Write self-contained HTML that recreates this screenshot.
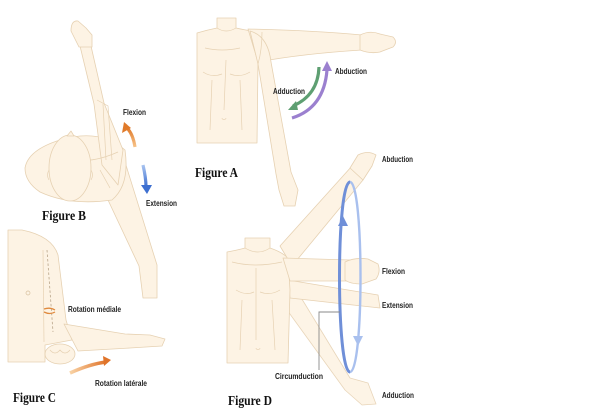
<!DOCTYPE html>
<html><head><meta charset="utf-8"><style>
html,body{margin:0;padding:0;background:#fff;}
svg{display:block;}
.s{fill:#fdf3e4;stroke:#e6d1b2;stroke-width:0.8;stroke-linejoin:round;}
.l{fill:none;stroke:#e6d1b2;stroke-width:0.7;}
.t{font-family:"Liberation Sans",Arial,sans-serif;font-weight:bold;font-size:8px;fill:#222;}
.f{font-family:"Liberation Serif","Times New Roman",serif;font-weight:bold;font-size:14px;fill:#111;}
</style></head><body>
<svg width="614" height="413" viewBox="0 0 614 413" xmlns="http://www.w3.org/2000/svg">
<defs>
<linearGradient id="og" x1="0" y1="1" x2="0" y2="0"><stop offset="0" stop-color="#f7c48a"/><stop offset="1" stop-color="#e07a2a"/></linearGradient>
<linearGradient id="og2" x1="0" y1="0" x2="1" y2="0"><stop offset="0" stop-color="#f9d3a6"/><stop offset="1" stop-color="#e0742a"/></linearGradient>
<linearGradient id="bg" x1="0" y1="0" x2="0" y2="1"><stop offset="0" stop-color="#a9c4f0"/><stop offset="1" stop-color="#3d6fd0"/></linearGradient>
</defs>

<!-- ============ FIGURE A ============ -->
<path class="s" d="M197,33 Q207,30 217,28 L217,18 L236,18 L236,28 Q245,30 252,31 L258,62 L257,143 L197,143 Z"/>
<path class="l" d="M217,28 Q226,34 236,28 M205,48 Q222,52 240,48 M226,60 L224,110 M203,72 Q212,78 222,74 M230,74 Q240,78 250,72 M212,80 L210,130 M240,80 L242,130 M222,118 a2,1.5 0 1 0 4,0"/>
<path class="s" d="M248,29 C300,30 340,33 362,35 L362,50 C330,52 290,56 258,62 Z"/>
<path class="s" d="M360,35 Q370,30 380,34 L393,37 Q398,42 393,47 L380,52 Q370,54 360,50 Z"/>
<path class="s" d="M250,31 Q268,36 271,62 L291,172 L298,190 L295,206 L284,206 L279,190 L276,174 L258,64 Z"/>
<path class="l" d="M262,32 Q262,50 258,64"/>
<!-- arrows A -->
<path d="M319,67 Q318,95 293,106" fill="none" stroke="#5e9f72" stroke-width="3.2"/>
<path d="M288,110 L296,101 L298,110 Z" fill="#5e9f72"/>
<path d="M292,118 Q324,108 327,70" fill="none" stroke="#9b80cf" stroke-width="3.2"/>
<path d="M327,61 L322,71 L332,71 Z" fill="#9b80cf"/>
<text class="t" x="335" y="74" textLength="32" lengthAdjust="spacingAndGlyphs">Abduction</text>
<text class="t" x="273" y="94" textLength="32" lengthAdjust="spacingAndGlyphs">Adduction</text>
<text class="f" x="195" y="177" textLength="43" lengthAdjust="spacingAndGlyphs">Figure A</text>

<!-- ============ FIGURE B ============ -->
<path class="s" d="M110,172 L125,162 L157,265 L157,298 L143,298 L139,266 L108,200 Z"/>
<path class="s" d="M25,168 Q28,150 60,140 Q100,128 125,150 Q130,185 112,200 Q70,206 40,192 Q25,182 25,168 Z"/>
<path class="s" d="M80,46 L91,46 L104,103 L123,150 L118,185 L102,165 L94,104 Z"/>
<path class="s" d="M79,47 L71,31 Q71,20 78,21 L86,28 L92,35 L92,47 Z"/>
<path class="l" d="M97,100 L108,106 L112,160 M103,104 L106,160 M80,160 Q95,162 118,152 M100,170 L110,188"/>
<ellipse class="s" cx="70" cy="168" rx="21" ry="33"/>
<path class="s" d="M67,136 L71,131 L74,136 Z"/>
<path class="l" d="M49,170 q-3,5 0,10 M91,170 q3,5 0,10"/>
<!-- arrows B -->
<path d="M135,147 Q133,134 127,128" fill="none" stroke="url(#og)" stroke-width="3.2"/>
<path d="M124,122 L122,133 L131,128 Z" fill="#e07a2a"/>
<path d="M143,165 Q146,178 146,187" fill="none" stroke="url(#bg)" stroke-width="3.2"/>
<path d="M147,194 L141,185 L152,185 Z" fill="#3d6fd0"/>
<text class="t" x="123" y="115" textLength="23" lengthAdjust="spacingAndGlyphs">Flexion</text>
<text class="t" x="146" y="206" textLength="31" lengthAdjust="spacingAndGlyphs">Extension</text>
<text class="f" x="42" y="220" textLength="44" lengthAdjust="spacingAndGlyphs">Figure B</text>

<!-- ============ FIGURE C ============ -->
<path class="s" d="M8,230 L22,230 Q52,236 58,255 L66,320 L72,340 L45,345 L45,362 L8,362 Z"/>
<path class="l" d="M43,250 L44,342"/>
<path class="s" d="M64,324 L125,334 L150,335 L165,339 L162,346 L130,348 L78,351 Z"/>
<ellipse class="s" cx="60" cy="354" rx="15" ry="10"/>
<path class="l" d="M50,350 q5,6 10,0 q5,6 10,0"/>
<path d="M47,250 L53,332" stroke="#b9a58a" stroke-width="0.8" stroke-dasharray="2.5,2" fill="none"/>
<circle cx="28" cy="293" r="2" fill="none" stroke="#d6bf9c" stroke-width="0.7"/>
<path d="M44,309 Q50,307 55,310 M44,312 Q50,315 55,312" stroke="#e08a3e" stroke-width="1.3" fill="none"/>
<path d="M70,373 Q90,364 106,362" fill="none" stroke="url(#og2)" stroke-width="3.5"/>
<path d="M111,360 L103,356 L104,366 Z" fill="#e0742a"/>
<text class="t" x="68" y="312" textLength="53" lengthAdjust="spacingAndGlyphs">Rotation médiale</text>
<text class="t" x="95" y="386" textLength="52" lengthAdjust="spacingAndGlyphs">Rotation latérale</text>
<text class="f" x="13" y="402" textLength="43" lengthAdjust="spacingAndGlyphs">Figure C</text>

<!-- ============ FIGURE D ============ -->
<path class="s" d="M283,268 L350,378 L368,383 L376,404 L362,405 L345,390 L274,292 Z" opacity="0.9"/>
<path class="s" d="M288,280 L360,292 L378,295 L380,308 L362,306 L290,298 Z"/>
<path class="s" d="M227,252 Q238,250 245,248 L245,238 L270,238 L270,248 Q282,252 288,258 L290,290 L288,363 L227,363 Z"/>
<path class="l" d="M245,248 Q258,256 270,248 M232,262 Q255,268 282,262 M256,268 L256,340 M236,290 Q246,296 254,292 M260,292 Q270,296 280,290 M242,300 L240,350 M272,300 L275,350 M256,348 a2,1.5 0 1 0 4,0"/>
<path class="s" d="M280,246 L352,166 L363,180 L292,266 Z"/>
<path class="s" d="M350,168 L358,155 Q368,150 376,155 L372,166 L363,180 Z"/>
<path class="s" d="M283,258 L350,260 L350,281 L290,281 Z"/>
<path class="s" d="M345,262 Q355,257 368,259 L378,264 Q381,272 376,279 L362,284 Q350,284 345,280 Z"/>
<!-- circumduction -->
<path d="M350,182 C336,182 336,372 350,372" fill="none" stroke="#6f8fd8" stroke-width="3"/>
<path d="M350,182 C364,182 364,372 350,372" fill="none" stroke="#a9c0ee" stroke-width="2.4"/>
<path d="M343,216 L338,226 L348,226 Z" fill="#6f8fd8"/>
<path d="M358,346 L353,336 L363,336 Z" fill="#a9c0ee"/>
<path d="M340,312 L319,312 L319,370" fill="none" stroke="#8a8a8a" stroke-width="0.9"/>
<text class="t" x="382" y="162" textLength="31" lengthAdjust="spacingAndGlyphs">Abduction</text>
<text class="t" x="382" y="274" textLength="23" lengthAdjust="spacingAndGlyphs">Flexion</text>
<text class="t" x="382" y="308" textLength="31" lengthAdjust="spacingAndGlyphs">Extension</text>
<text class="t" x="275" y="379" textLength="48" lengthAdjust="spacingAndGlyphs">Circumduction</text>
<text class="t" x="382" y="398" textLength="32" lengthAdjust="spacingAndGlyphs">Adduction</text>
<text class="f" x="228" y="405" textLength="44" lengthAdjust="spacingAndGlyphs">Figure D</text>
</svg>
</body></html>
